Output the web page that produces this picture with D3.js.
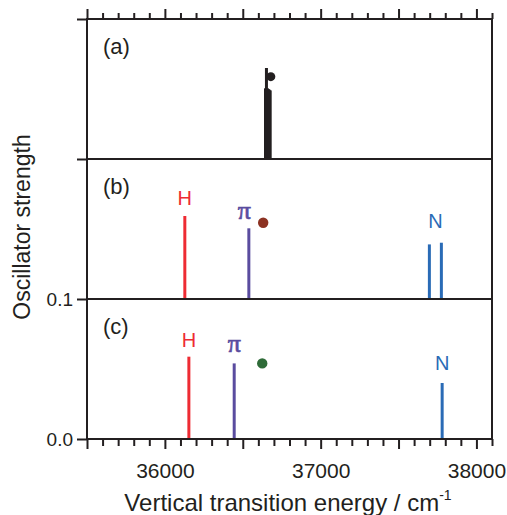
<!DOCTYPE html>
<html><head><meta charset="utf-8">
<script src="https://cdn.jsdelivr.net/npm/d3@7"></script>
<style>
html,body{margin:0;padding:0;background:#fff;}
svg{display:block;}
text{font-family:"Liberation Sans",Arial,sans-serif;}
</style></head>
<body>
<script>
// ---- data ----
const panels = ["(a)", "(b)", "(c)"];
// panel (a): cluster of black sticks [energy, strength]
const sticksA = [[36646, 0.0505], [36652, 0.065], [36658, 0.0505], [36664, 0.050], [36670, 0.0495], [36676, 0.049]];
const dotA = [36680, 0.0588];
// panel (b)
const sticksB = [[36128, 0.0593, "H"], [36539, 0.0505, "π"], [37698, 0.039, "N"], [37775, 0.0402, "N"]];
const dotB = [36631, 0.0545];
const labelsB = [["H", 36128, 0.067], ["π", 36510, 0.057], ["N", 37737, 0.051]];
// panel (c)
const sticksC = [[36154, 0.0588, "H"], [36445, 0.054, "π"], [37780, 0.040, "N"]];
const dotC = [36625, 0.054];
const labelsC = [["H", 36154, 0.066], ["π", 36445, 0.062], ["N", 37780, 0.049]];
const xTickLabels = [36000, 37000, 38000];
const yTickLabels = [0.0, 0.1];
const xDomain = [35500, 38100];
const yDomain = [0, 0.1];

// ---- styles ----
const col = {H: "#ee2b33", "π": "#5a4c9f", N: "#2a6bb6"};
const black = "#231f20";

const W = 507, H = 515;
const svg = d3.select("body").append("svg").attr("width", W).attr("height", H);
const L = 87, R = 492, top0 = 19, ph = 140;
const x = d3.scaleLinear().domain(xDomain).range([L, R]);
const ys = [0, 1, 2].map(i => d3.scaleLinear().domain(yDomain).range([top0 + ph * (i + 1), top0 + ph * i]));

// sticks
function sticks(g, data, y, colorFn, w) {
  g.selectAll("line.s").data(data).join("line")
    .attr("x1", d => x(d[0])).attr("x2", d => x(d[0]))
    .attr("y1", y(0)).attr("y2", d => y(d[1]))
    .attr("stroke", colorFn).attr("stroke-width", w);
}
const gA = svg.append("g");
gA.append("circle").attr("cx", x(dotA[0])).attr("cy", ys[0](dotA[1])).attr("r", 4.5).attr("fill", black);
sticks(gA, sticksA, ys[0], black, 3);

const gB = svg.append("g");
sticks(gB, sticksB, ys[1], d => col[d[2]], 3);
gB.append("circle").attr("cx", x(dotB[0])).attr("cy", ys[1](dotB[1])).attr("r", 5.2).attr("fill", "#8c3222");

const gC = svg.append("g");
sticks(gC, sticksC, ys[2], d => col[d[2]], 3);
gC.append("circle").attr("cx", x(dotC[0])).attr("cy", ys[2](dotC[1])).attr("r", 5.2).attr("fill", "#2e6b38");

function labels(g, data, y) {
  g.selectAll("text.l").data(data).join("text")
    .attr("x", d => x(d[1])).attr("y", d => y(d[2]))
    .attr("text-anchor", "middle")
    .attr("fill", d => col[d[0]])
    .attr("stroke", d => d[0] === "π" ? col[d[0]] : "none")
    .attr("stroke-width", 0.7)
    .style("font-family", d => d[0] === "π" ? "'Liberation Serif','Times New Roman',serif" : null)
    .style("font-size", d => d[0] === "π" ? "26px" : "20px")
    .text(d => d[0]);
}
labels(gB, labelsB, ys[1]);
labels(gC, labelsC, ys[2]);

// frame
const frame = svg.append("g").attr("stroke", black).attr("stroke-width", 2).attr("fill", "none");
frame.append("rect").attr("x", L).attr("y", top0).attr("width", R - L).attr("height", ph * 3);
[1, 2].forEach(i => frame.append("line").attr("x1", L).attr("x2", R).attr("y1", top0 + ph * i).attr("y2", top0 + ph * i));

// panel labels
svg.selectAll("text.p").data(panels).join("text")
  .attr("x", 103).attr("y", (d, i) => top0 + ph * i + 35)
  .style("font-size", "22px").attr("fill", black).text(d => d);

// x axes
const minor = d3.range(xDomain[0], xDomain[1] + 1, 100).filter(v => v % 500 !== 0);
const major = d3.range(35500, xDomain[1] + 1, 500);
function styleAxis(g) {
  g.select(".domain").remove();
  g.selectAll(".tick line").attr("stroke", black).attr("stroke-width", 2);
  g.selectAll(".tick text").attr("fill", black);
}
const bottomY = top0 + ph * 3;
svg.append("g").attr("transform", `translate(0,${bottomY})`)
  .call(d3.axisBottom(x).tickValues(minor).tickSize(7).tickFormat("")).call(styleAxis);
svg.append("g").attr("transform", `translate(0,${bottomY})`)
  .call(d3.axisBottom(x).tickValues(major).tickSize(10).tickPadding(14)
    .tickFormat(d => xTickLabels.includes(d) ? d3.format("d")(d) : ""))
  .call(styleAxis).call(g => g.selectAll("text").style("font-size", "21px").style("font-family", "'Liberation Sans',Arial,sans-serif"));
svg.append("g").attr("transform", `translate(0,${top0})`)
  .call(d3.axisTop(x).tickValues(minor).tickSize(6).tickFormat("")).call(styleAxis);
svg.append("g").attr("transform", `translate(0,${top0})`)
  .call(d3.axisTop(x).tickValues(major).tickSize(10).tickFormat("")).call(styleAxis);

// y axes
svg.append("g").attr("transform", `translate(${L},0)`)
  .call(d3.axisLeft(ys[2]).tickValues(yTickLabels).tickSize(10).tickPadding(4).tickFormat(d3.format(".1f")))
  .call(styleAxis).call(g => g.selectAll("text").style("font-size", "19px").style("font-family", "'Liberation Sans',Arial,sans-serif"));
svg.append("g").attr("transform", `translate(${L},0)`)
  .call(d3.axisLeft(ys[0]).tickValues(yDomain).tickSize(10).tickFormat("")).call(styleAxis);

// axis titles
svg.append("text").attr("transform", "translate(30,227) rotate(-90)")
  .attr("text-anchor", "middle").style("font-size", "23px").attr("fill", black)
  .text("Oscillator strength");
const xt = svg.append("text").attr("x", 288).attr("y", 511).attr("text-anchor", "middle")
  .style("font-size", "24px").attr("fill", black);
xt.append("tspan").text("Vertical transition energy / cm");
xt.append("tspan").attr("dy", -11).style("font-size", "14px").text("-1");
</script>
</body></html>
